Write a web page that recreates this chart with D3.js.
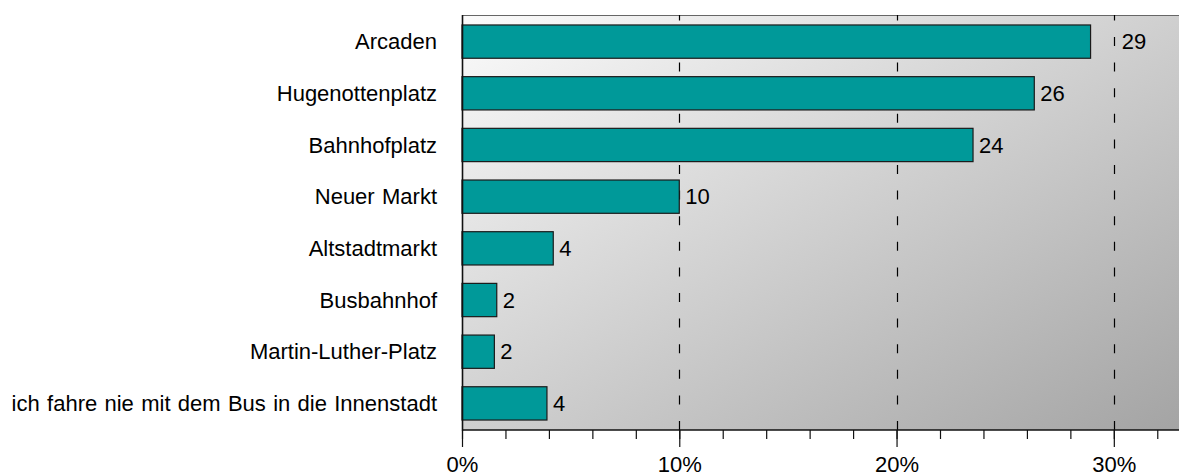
<!DOCTYPE html>
<html>
<head>
<meta charset="utf-8">
<script src="https://cdn.jsdelivr.net/npm/d3@7/dist/d3.min.js"></script>
<style>
  html, body { margin: 0; padding: 0; background: #fff; }
  svg { display: block; }
  text { font-family: "Liberation Sans", Arial, sans-serif; fill: #000; }
</style>
</head>
<body>
<svg id="chart" width="1179" height="474"></svg>
<script>
const categories = [
  "Arcaden",
  "Hugenottenplatz",
  "Bahnhofplatz",
  "Neuer Markt",
  "Altstadtmarkt",
  "Busbahnhof",
  "Martin-Luther-Platz",
  "ich fahre nie mit dem Bus in die Innenstadt"
];
const values = [28.93, 26.34, 23.52, 10.0, 4.2, 1.6, 1.49, 3.91];
const valueLabels = ["29", "26", "24", "10", "4", "2", "2", "4"];
const majorTicks = [0, 10, 20, 30];
const minorTicks = [0, 2, 4, 6, 8, 10, 12, 14, 16, 18, 20, 22, 24, 26, 28, 30, 32];
const tickFormat = d => d + "%";

(function () {
const svg = d3.select("#chart");
const pLeft = 462, pRight = 1179, pTop = 15, pBottom = 430;

const x = d3.scaleLinear().domain([0, 33]).range([pLeft, pRight]);
const y = d3.scaleBand().domain(categories).range([pTop, pBottom])
  .paddingInner(0.356).paddingOuter(0.193);

const defs = svg.append("defs");
const grad = defs.append("linearGradient").attr("id", "bg")
  .attr("x1", 0).attr("y1", 0).attr("x2", 1).attr("y2", 1);
grad.append("stop").attr("offset", "0%").attr("stop-color", "#fbfbfb");
grad.append("stop").attr("offset", "100%").attr("stop-color", "#a4a4a4");

svg.append("rect")
  .attr("x", pLeft).attr("y", pTop)
  .attr("width", pRight - pLeft).attr("height", pBottom - pTop)
  .attr("fill", "url(#bg)");

svg.append("line")
  .attr("x1", pLeft).attr("x2", pRight).attr("y1", pTop + 0.5).attr("y2", pTop + 0.5)
  .attr("stroke", "#666").attr("stroke-width", 1.2);

svg.append("g").selectAll("line")
  .data(majorTicks.filter(d => d > 0))
  .join("line")
  .attr("x1", d => Math.round(x(d)) + 0.5).attr("x2", d => Math.round(x(d)) + 0.5)
  .attr("y1", pBottom).attr("y2", pTop)
  .attr("stroke", "#000").attr("stroke-width", 1.2)
  .attr("stroke-dasharray", "9,16.6");

svg.append("g").selectAll("rect")
  .data(categories)
  .join("rect")
  .attr("x", x(0))
  .attr("y", d => y(d))
  .attr("width", (d, i) => x(values[i]) - x(0))
  .attr("height", y.bandwidth())
  .attr("fill", "#009999")
  .attr("stroke", "#1a1a1a")
  .attr("stroke-width", 1.2);

const labels = svg.append("g").selectAll("text")
  .data(categories)
  .join("text")
  .attr("y", d => y(d) + y.bandwidth() / 2)
  .attr("dy", "0.35em")
  .attr("font-size", 22)
  .text((d, i) => valueLabels[i]);
labels.each(function (d, i) {
  let lx = x(values[i]) + 6;
  const w = this.getComputedTextLength();
  majorTicks.forEach(t => {
    const gx = x(t);
    if (t > 0 && gx >= lx - 2 && gx <= lx + w + 2) lx = gx + 8;
  });
  d3.select(this).attr("x", lx);
});

svg.append("g").selectAll("text")
  .data(categories)
  .join("text")
  .attr("x", pLeft - 25)
  .attr("y", d => y(d) + y.bandwidth() / 2)
  .attr("dy", "0.35em")
  .attr("text-anchor", "end")
  .attr("font-size", 22)
  .attr("word-spacing", "1.2px")
  .text(d => d);

svg.append("line")
  .attr("x1", pLeft + 0.5).attr("x2", pLeft + 0.5).attr("y1", pTop).attr("y2", pBottom + 0.5)
  .attr("stroke", "#111").attr("stroke-width", 1.6);

const axisG = svg.append("g").attr("transform", `translate(0,${pBottom})`);
axisG.append("g")
  .call(d3.axisBottom(x).tickValues(minorTicks).tickSize(9).tickFormat(""))
  .call(g => g.select(".domain").remove())
  .call(g => g.selectAll(".tick line").attr("stroke", "#111").attr("stroke-width", 1.2));
axisG.append("g")
  .call(d3.axisBottom(x).tickValues(majorTicks).tickSize(17).tickPadding(9).tickFormat(tickFormat))
  .call(g => g.select(".domain").remove())
  .call(g => g.selectAll(".tick line").attr("stroke", "#111").attr("stroke-width", 1.2))
  .call(g => g.selectAll(".tick text").attr("font-size", 22).attr("font-family", "Liberation Sans, Arial, sans-serif").attr("fill", "#000"));
axisG.append("line")
  .attr("x1", pLeft).attr("x2", pRight).attr("y1", 0).attr("y2", 0)
  .attr("stroke", "#111").attr("stroke-width", 1.4);
})();
</script>
</body>
</html>
